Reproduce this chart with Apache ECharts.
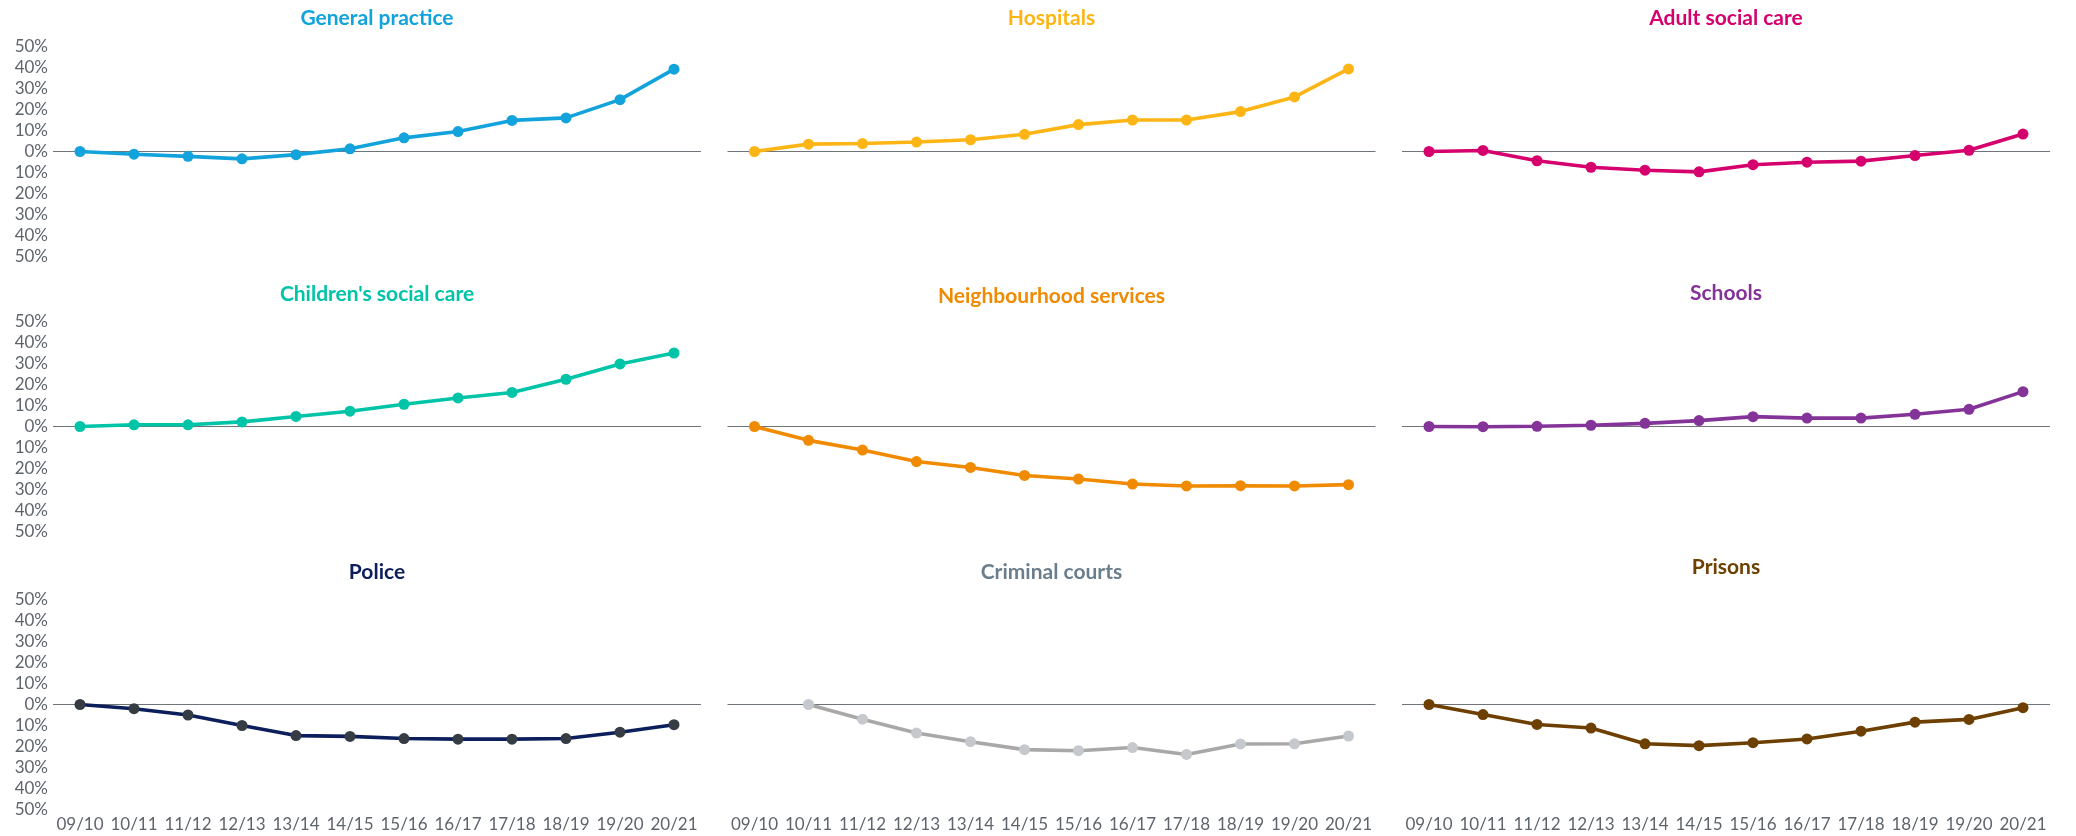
<!DOCTYPE html>
<html>
<head>
<meta charset="utf-8">
<script src="https://cdn.jsdelivr.net/npm/echarts@6/dist/echarts.min.js"></script>
<style>
html,body{margin:0;padding:0;background:#fff;}
#chart{width:2076px;height:836px;}
</style>
</head>
<body>
<div id="chart"></div>
<script>
// ---- data ----
const categories = ['09/10','10/11','11/12','12/13','13/14','14/15','15/16','16/17','17/18','18/19','19/20','20/21'];

const generalPractice   = [0, -1.3, -2.3, -3.5, -1.5, 1.3, 6.5, 9.5, 14.8, 16, 24.7, 39.2];
const hospitals         = [0, 3.5, 3.8, 4.5, 5.6, 8.2, 12.8, 15, 15, 19, 26, 39.3];
const adultSocialCare   = [0, 0.5, -4.4, -7.5, -8.9, -9.7, -6.3, -5.1, -4.6, -1.9, 0.6, 8.3];
const childrensSocial   = [0, 0.8, 0.8, 2.2, 4.8, 7.3, 10.6, 13.6, 16.2, 22.5, 29.8, 35];
const neighbourhood     = [0, -6.6, -11.2, -16.7, -19.5, -23.3, -25, -27.4, -28.3, -28.2, -28.3, -27.7];
const schools           = [0, -0.1, 0.1, 0.6, 1.5, 2.8, 4.7, 4, 4, 5.8, 8.2, 16.6];
const police            = [0, -2, -5, -10, -14.8, -15.2, -16.2, -16.5, -16.5, -16.2, -13.2, -9.6];
const criminalCourts    = [null, 0, -7, -13.6, -17.7, -21.5, -22, -20.5, -23.8, -18.8, -18.7, -15];
const prisons           = [0, -4.8, -9.5, -11.2, -18.7, -19.6, -18.2, -16.4, -12.7, -8.4, -7.1, -1.5];

const panelTitles = ['General practice','Hospitals','Adult social care',
                     "Children's social care",'Neighbourhood services','Schools',
                     'Police','Criminal courts','Prisons'];
const panelValues = [generalPractice, hospitals, adultSocialCare,
                     childrensSocial, neighbourhood, schools,
                     police, criminalCourts, prisons];

const yMin = -50, yMax = 50, yStep = 10;

// ---- styles ----
const lineColors   = ['#12a3dc','#fdb515','#d5006d','#00c4a7','#f08a00','#843398','#0c1f5c','#a8a8a8','#6d3f00'];
const markerColors = ['#12a3dc','#fdb515','#d5006d','#00c4a7','#f08a00','#843398','#353c44','#c5c9cd','#6d3f00'];
const titleColors  = ['#12a3dc','#fdb515','#d5006d','#00c4a7','#f08a00','#843398','#0c1f5c','#6a7e8e','#6d3f00'];

const colLeft  = [53, 727.5, 1402];
const colWidth = 648;
const rowTop   = [46.5, 321.5, 599.5];
const rowHeight = 210;
const titleCenterY = [[18,18,18],[294,296,293],[572,572,567]];

const labelFont = {fontFamily:'Lato', fontSize:17, color:'#5e646b'};

const grids = [], xAxes = [], yAxes = [], series = [], titles = [];
for (let i = 0; i < 9; i++) {
  const r = Math.floor(i / 3), c = i % 3;
  grids.push({left: colLeft[c], top: rowTop[r], width: colWidth, height: rowHeight, containLabel: false});
  xAxes.push({
    type: 'category', gridIndex: i, data: categories, boundaryGap: true,
    axisLine: {show: false}, axisTick: {show: false}, splitLine: {show: false},
    axisLabel: Object.assign({show: r === 2, interval: 0, margin: 7}, labelFont)
  });
  yAxes.push({
    type: 'value', gridIndex: i, min: yMin, max: yMax, interval: yStep,
    axisLine: {show: false}, axisTick: {show: false}, splitLine: {show: false},
    axisLabel: Object.assign({show: c === 0, margin: 5, formatter: v => Math.abs(v) + '%'}, labelFont)
  });
  series.push({
    type: 'line', xAxisIndex: i, yAxisIndex: i, data: panelValues[i],
    symbol: 'circle', symbolSize: 11, showSymbol: true, connectNulls: false,
    lineStyle: {color: lineColors[i], width: 3.6},
    itemStyle: {color: markerColors[i]},
    z: 3,
    emphasis: {disabled: true},
    markLine: {
      silent: true, symbol: 'none', z: 1, animation: false,
      label: {show: false},
      lineStyle: {color: '#6e7479', width: 1.2, type: 'solid'},
      data: [{yAxis: 0}]
    }
  });
  titles.push({
    text: panelTitles[i],
    left: colLeft[c] + colWidth / 2,
    top: titleCenterY[r][c] - 12,
    textAlign: 'center',
    padding: 0,
    textStyle: {fontFamily: 'Lato', fontWeight: 'bold', fontSize: 21, lineHeight: 24, color: titleColors[i]}
  });
}

const chart = echarts.init(document.getElementById('chart'), null, {renderer: 'canvas'});
chart.setOption({
  animation: false,
  backgroundColor: '#ffffff',
  title: titles,
  grid: grids,
  xAxis: xAxes,
  yAxis: yAxes,
  series: series
});
</script>
</body>
</html>
